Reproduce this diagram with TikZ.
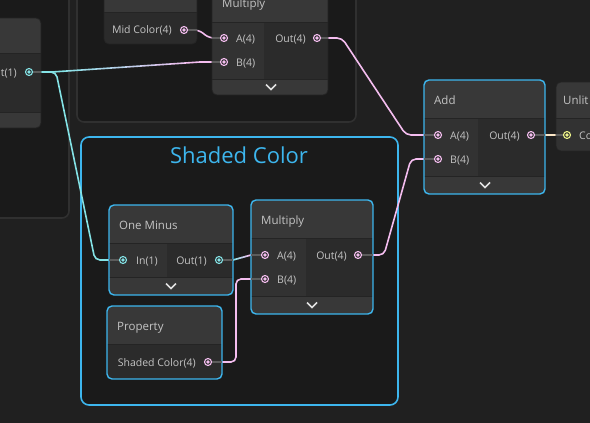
\documentclass[tikz,border=0pt]{standalone}
\usepackage{fontspec}
\setmainfont{Open Sans}
\usetikzlibrary{calc}
\pgfdeclarelayer{canvas}
\pgfdeclarelayer{wires}
\pgfsetlayers{canvas,wires,main}
\definecolor{canvasbg}{HTML}{202020}
\definecolor{groupbg}{HTML}{1A1A1A}
\definecolor{groupedge}{HTML}{303030}
\definecolor{bodybg}{HTML}{2B2B2B}
\definecolor{incol}{HTML}{323232}
\definecolor{headbg}{HTML}{383838}
\definecolor{sepline}{HTML}{242424}
\definecolor{selblue}{HTML}{3DB6EE}
\definecolor{labeltxt}{HTML}{C4C4C4}
\definecolor{pinkw}{HTML}{F4BDEF}
\definecolor{cyanw}{HTML}{84E3E6}
\definecolor{yelloww}{HTML}{EEF48A}
\definecolor{peachw}{HTML}{FCE6C6}
\definecolor{stubgrey}{HTML}{5C5C5C}
\definecolor{portgap}{HTML}{2B2B2B}
\begin{document}
\begin{tikzpicture}[x=1pt,y=-1pt]

    \tikzset{
      port/.style={
        circle,
        draw=#1,
        fill=portgap,
        line width=1.1pt,
        inner sep=0pt,
        minimum size=7pt,
        path picture={\fill[#1] (path picture bounding box.center) circle (1.8pt);},
      },
      stub/.style={draw=stubgrey, line width=1.6pt},
      wire/.style={line width=1.6pt, rounded corners=5pt, line cap=round},
      inlbl/.style={text=labeltxt, font=\fontsize{10.5}{12}\selectfont, inner sep=0pt, anchor=base west},
      outlbl/.style={text=labeltxt, font=\fontsize{10.5}{12}\selectfont, inner sep=0pt, anchor=base east},
      title/.style={text=labeltxt, font=\fontsize{11.5}{13}\selectfont, inner sep=0pt, anchor=base west},
      selbox/.style={draw=selblue, line width=1.4pt, rounded corners=5pt},
      plainbox/.style={draw=sepline, line width=0.8pt, rounded corners=5pt},
      frame/.style={fill=groupbg, draw=groupedge, line width=1.6pt, rounded corners=7pt},
      chev/.style={draw=white!88!black, line width=1.6pt},
      sep/.style={draw=sepline, line width=0.8pt},
    }
    \clip (0,0) rectangle (590,423);

    % canvas and groups
    \begin{pgfonlayer}{canvas}
	\fill[canvasbg] (0,0) rectangle (590,423);
	\draw[frame] (-20,-20) rectangle (69,218);
	\draw[frame] (77,-20) rectangle (356,122);
	\draw[selbox, fill=groupbg, line width=1.6pt, rounded corners=8pt] (81,137) rectangle (398,405);
    \end{pgfonlayer}
	\node[text=selblue, font=\fontsize{22}{26}\selectfont, inner sep=0pt, anchor=base] (shadedTitle) at (239,163) {Shaded Color};

    % left node
	\begin{scope}
	\clip[rounded corners=5pt] (-20,18) rectangle (41,128);
	\fill[bodybg] (-20,18) rectangle (41,128);
	\fill[headbg] (-20,18) rectangle (41,53);
	\fill[headbg] (-20,112) rectangle (41,128);
	\draw[sep] (-20,53) -- (41,53);
	\draw[sep] (-20,112) -- (41,112);
	\end{scope}
	\draw[plainbox] (-20,18) rectangle (41,128);
	\node[port=cyanw] (leftOut) at (29,72) {};
	\draw[stub] (leftOut.east) -- ++(8,0);
	\node[outlbl] (leftOutLbl) at (17,76) {Out(1)};

    % mid color property
	\begin{scope}
	\clip[rounded corners=5pt] (104,-20) rectangle (197,44);
	\fill[bodybg] (104,-20) rectangle (197,44);
	\fill[headbg] (104,-20) rectangle (197,12);
	\draw[sep] (104,12) -- (197,12);
	\end{scope}
	\draw[plainbox] (104,-20) rectangle (197,44);
	\node[port=pinkw] (midOut) at (184,30) {};
	\draw[stub] (midOut.east) -- ++(9,0);
	\node[outlbl] (midOutLbl) at (172,34) {Mid Color(4)};

    % multiply (top)
	\begin{scope}
	\clip[rounded corners=5pt] (212,-16) rectangle (328,95);
	\fill[bodybg] (212,-16) rectangle (328,95);
	\fill[headbg] (212,-16) rectangle (328,22);
	\fill[incol] (212,22) rectangle (264,79);
	\fill[headbg] (212,79) rectangle (328,95);
	\draw[sep] (212,22) -- (328,22);
	\draw[sep] (212,79) -- (328,79);
	\end{scope}
	\draw[plainbox] (212,-16) rectangle (328,95);
	\node[title] (mulTTitle) at (222,7.5) {Multiply};
	\node[port=pinkw] (mulTA) at (224,38) {};
	\node[port=pinkw] (mulTB) at (224,62) {};
	\node[port=pinkw] (mulTOut) at (317,38) {};
	\draw[stub] (mulTA.west) -- ++(-8,0);
	\draw[stub] (mulTB.west) -- ++(-8,0);
	\draw[stub] (mulTOut.east) -- ++(7,0);
	\node[inlbl] (mulTALbl) at (236,42) {A(4)};
	\node[inlbl] (mulTBLbl) at (236,66) {B(4)};
	\node[outlbl] (mulTOutLbl) at (306,42) {Out(4)};
	\draw[chev] (266,84.5) -- (271,89.5) -- (276,84.5);

    % add
	\begin{scope}
	\clip[rounded corners=5pt] (424,80) rectangle (545,194);
	\fill[bodybg] (424,80) rectangle (545,194);
	\fill[headbg] (424,80) rectangle (545,118);
	\fill[incol] (424,118) rectangle (478,176);
	\fill[headbg] (424,176) rectangle (545,194);
	\draw[sep] (424,118) -- (545,118);
	\draw[sep] (424,176) -- (545,176);
	\end{scope}
	\draw[selbox] (424,80) rectangle (545,194);
	\node[title] (addTitle) at (434,104) {Add};
	\node[port=pinkw] (addA) at (438,135) {};
	\node[port=pinkw] (addB) at (438,159) {};
	\node[port=pinkw] (addOut) at (531,135) {};
	\draw[stub] (addA.west) -- ++(-9.5,0);
	\draw[stub] (addB.west) -- ++(-9.5,0);
	\draw[stub] (addOut.east) -- ++(9.5,0);
	\node[inlbl] (addALbl) at (450,139) {A(4)};
	\node[inlbl] (addBLbl) at (450,163) {B(4)};
	\node[outlbl] (addOutLbl) at (520,139) {Out(4)};
	\draw[chev] (480,182.5) -- (485,187.5) -- (490,182.5);

    % unlit master
	\begin{scope}
	\clip[rounded corners=5pt] (556,82) rectangle (620,151);
	\fill[incol] (556,82) rectangle (620,151);
	\fill[headbg] (556,82) rectangle (620,118);
	\draw[sep] (556,118) -- (620,118);
	\end{scope}
	\draw[plainbox] (556,82) rectangle (620,151);
	\node[title] (unlitTitle) at (563,104.5) {Unlit Master};
	\node[port=yelloww] (unlitIn) at (567,135) {};
	\draw[stub] (unlitIn.west) -- ++(-7,0);
	\node[inlbl] (unlitInLbl) at (579,139) {Color(3)};

    % one minus
	\begin{scope}
	\clip[rounded corners=5pt] (109,205) rectangle (233,295);
	\fill[bodybg] (109,205) rectangle (233,295);
	\fill[headbg] (109,205) rectangle (233,243);
	\fill[incol] (109,243) rectangle (167,277);
	\fill[headbg] (109,277) rectangle (233,295);
	\draw[sep] (109,243) -- (233,243);
	\draw[sep] (109,277) -- (233,277);
	\end{scope}
	\draw[selbox] (109,205) rectangle (233,295);
	\node[title] (omTitle) at (119,229) {One Minus};
	\node[port=cyanw] (omIn) at (123,260) {};
	\node[port=cyanw] (omOut) at (219,260) {};
	\draw[stub] (omIn.west) -- ++(-9.5,0);
	\draw[stub] (omOut.east) -- ++(9.5,0);
	\node[inlbl] (omInLbl) at (136,264) {In(1)};
	\node[outlbl] (omOutLbl) at (207,264) {Out(1)};
	\draw[chev] (166,283.5) -- (171,288.5) -- (176,283.5);

    % multiply (shaded)
	\begin{scope}
	\clip[rounded corners=5pt] (251,200) rectangle (373,314);
	\fill[bodybg] (251,200) rectangle (373,314);
	\fill[headbg] (251,200) rectangle (373,238);
	\fill[incol] (251,238) rectangle (306,296);
	\fill[headbg] (251,296) rectangle (373,314);
	\draw[sep] (251,238) -- (373,238);
	\draw[sep] (251,296) -- (373,296);
	\end{scope}
	\draw[selbox] (251,200) rectangle (373,314);
	\node[title] (mulBTitle) at (261,224) {Multiply};
	\node[port=pinkw] (mulBA) at (265,255) {};
	\node[port=pinkw] (mulBB) at (265,279) {};
	\node[port=pinkw] (mulBOut) at (358,255) {};
	\draw[stub] (mulBA.west) -- ++(-9.5,0);
	\draw[stub] (mulBB.west) -- ++(-9.5,0);
	\draw[stub] (mulBOut.east) -- ++(10.5,0);
	\node[inlbl] (mulBALbl) at (277,259) {A(4)};
	\node[inlbl] (mulBBLbl) at (277,283) {B(4)};
	\node[outlbl] (mulBOutLbl) at (347,259) {Out(4)};
	\draw[chev] (307,302.5) -- (312,307.5) -- (317,302.5);

    % shaded color property
	\begin{scope}
	\clip[rounded corners=5pt] (107,306) rectangle (222,379);
	\fill[bodybg] (107,306) rectangle (222,379);
	\fill[headbg] (107,306) rectangle (222,344);
	\draw[sep] (107,344) -- (222,344);
	\end{scope}
	\draw[selbox] (107,306) rectangle (222,379);
	\node[title] (propTitle) at (117,330) {Property};
	\node[port=pinkw] (propOut) at (208,362) {};
	\draw[stub] (propOut.east) -- ++(9.5,0);
	\node[outlbl] (propOutLbl) at (196,366) {Shaded Color(4)};

    % wires
    \begin{pgfonlayer}{wires}
	\coordinate (w1a) at (52,72);
	\coordinate (w1b) at (200,62);
	\coordinate (w6a) at (233,260);
	\coordinate (w6b) at (251,255);
	\draw[wire, cyanw] (leftOut.center) -- (56,72) -- (95,260) -- (omIn.center);
	\draw[wire, cyanw] (leftOut.center) -- (w1a);
	\draw[wire, pinkw] (w1b) -- (mulTB.center);
	\draw[wire, cyanw] (omOut.center) -- (w6a);
	\draw[wire, pinkw] (w6b) -- (mulBA.center);
	\foreach \a/\b in {w1a/w1b, w6a/w6b}
	  \foreach \i in {0,...,9}{
	    \pgfmathtruncatemacro{\pct}{\i*11}
	    \pgfmathsetmacro{\nxt}{(\i+1)/10}
	    \draw[wire, pinkw!\pct!cyanw] ($(\a)!{\i/10}!(\b)$) -- ($(\a)!\nxt!(\b)$);
	  }
	\draw[wire, pinkw] (midOut.center) -- (199,30) -- (209,38) -- (mulTA.center);
	\draw[wire, pinkw] (mulTOut.center) -- (342,38) -- (406,135) -- (addA.center);
	\draw[wire, pinkw] (mulBOut.center) -- (384,255) -- (411,159) -- (addB.center);
	\draw[wire, pinkw] (propOut.center) -- (236,362) -- (236,279) -- (mulBB.center);
	\draw[wire, peachw] (addOut.center) -- (unlitIn.center);
    \end{pgfonlayer}

\end{tikzpicture}
\end{document}
